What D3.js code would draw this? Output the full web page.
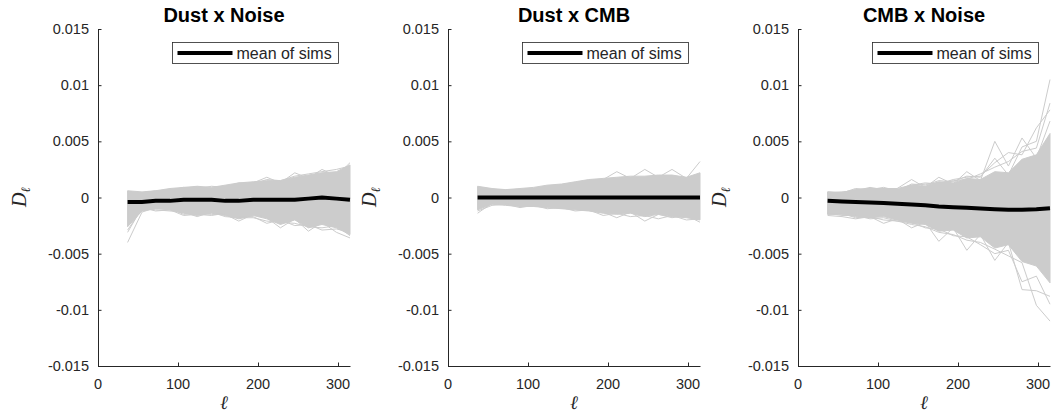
<!DOCTYPE html>
<html>
  <head>
    <meta charset="utf-8">
    <title> sim spectra </title>
    <script src="https://cdn.jsdelivr.net/npm/d3@7/dist/d3.min.js"></script>
    <style>
      body { margin: 0; background: white; }
      text { font-family: "Liberation Sans", Arial, Helvetica, sans-serif; fill: #262626; }
      .ttl { font-weight: bold; font-size: 20px; fill: #000; }
      .tick { font-size: 14.5px; }
      .math { font-family: "Liberation Serif", "DejaVu Serif", serif; font-style: italic; }
    </style>
  </head>
  <body>
    <script>
      // bandpower centres
      var ell = [37, 55, 72, 90, 107, 124, 142, 159, 176, 194, 211, 228, 246, 263, 280, 298, 315];

      var titles = ['Dust x Noise', 'Dust x CMB', 'CMB x Noise'];
      var yTicks = [-0.015, -0.01, -0.005, 0, 0.005, 0.01, 0.015];
      var yTickLabels = ['-0.015', '-0.01', '-0.005', '0', '0.005', '0.01', '0.015'];
      var xTicks = [0, 100, 200, 300];

      // Dust x Noise
      var dnUpper = [0.0006, 0.0005, 0.0006, 0.0008, 0.0009, 0.001, 0.0009, 0.0011, 0.0013, 0.0014, 0.0015, 0.0015, 0.0018, 0.002, 0.0022, 0.0023, 0.0029];
      var dnLower = [-0.0026, -0.0012, -0.001, -0.0011, -0.0014, -0.0016, -0.0014, -0.0016, -0.0019, -0.0016, -0.0019, -0.0024, -0.002, -0.0027, -0.0024, -0.0027, -0.0033];
      var dnMean = [-0.0004, -0.0004, -0.0003, -0.0003, -0.0002, -0.0002, -0.0002, -0.0003, -0.0003, -0.0002, -0.0002, -0.0002, -0.0002, -0.0001, 0, -0.0001, -0.0002];
      var dnSims = [
        [0.0005, 0.0004, 0.0005, 0.0007, 0.0008, 0.0009, 0.0008, 0.001, 0.0012, 0.0013, 0.0018, 0.0013, 0.0022, 0.0017, 0.0025, 0.0019, 0.0031],
        [0.0004, 0.0004, 0.0006, 0.0006, 0.0009, 0.0008, 0.001, 0.0009, 0.0013, 0.0012, 0.0016, 0.0015, 0.0019, 0.0021, 0.0023, 0.0025, 0.0028],
        [-0.004, -0.0013, -0.0009, -0.001, -0.0015, -0.0014, -0.0015, -0.0015, -0.0021, -0.0015, -0.0018, -0.0027, -0.0019, -0.003, -0.0022, -0.0031, -0.0036],
        [-0.0029, -0.001, -0.0011, -0.0012, -0.0013, -0.0017, -0.0013, -0.0017, -0.0018, -0.0018, -0.0021, -0.0022, -0.0023, -0.0026, -0.0027, -0.0025, -0.0034],
        [-0.0031, -0.0009, -0.0012, -0.0011, -0.0016, -0.0015, -0.0016, -0.0014, -0.0017, -0.0017, -0.0023, -0.002, -0.0025, -0.0024, -0.0029, -0.0028, -0.0031]
      ];

      // Dust x CMB
      var dcUpper = [0.001, 0.0008, 0.0007, 0.0008, 0.0009, 0.0011, 0.0012, 0.0014, 0.0016, 0.0017, 0.0018, 0.0019, 0.0019, 0.002, 0.002, 0.0018, 0.0022];
      var dcLower = [-0.0011, -0.0006, -0.0007, -0.0008, -0.0008, -0.0009, -0.001, -0.0011, -0.0012, -0.0014, -0.0015, -0.0014, -0.0017, -0.0015, -0.0017, -0.0018, -0.002];
      var dcMean = [0, 0, 0, 0, 0, 0, 0, 0, 0, 0, 0, 0, 0, 0, 0, 0, 0];
      var dcSims = [
        [0.0009, 0.0007, 0.0007, 0.0007, 0.0008, 0.001, 0.0011, 0.0013, 0.0015, 0.0016, 0.0023, 0.0017, 0.0025, 0.0018, 0.0025, 0.0017, 0.0032],
        [-0.0014, -0.0005, -0.0006, -0.0007, -0.0008, -0.0008, -0.0009, -0.001, -0.0011, -0.0013, -0.0018, -0.0013, -0.0021, -0.0015, -0.0018, -0.0016, -0.0022],
        [-0.0012, -0.0007, -0.0006, -0.0009, -0.0007, -0.001, -0.0009, -0.0012, -0.0011, -0.0016, -0.0014, -0.0017, -0.0016, -0.0019, -0.0016, -0.002, -0.0019]
      ];

      // CMB x Noise
      var cnUpper = [0.0005, 0.00045, 0.0007, 0.0008, 0.0008, 0.0007, 0.0011, 0.001, 0.0014, 0.0013, 0.0017, 0.0016, 0.0023, 0.0022, 0.0034, 0.0038, 0.0057];
      var cnLower = [-0.0015, -0.0015, -0.0017, -0.0018, -0.0017, -0.002, -0.0023, -0.0024, -0.003, -0.0029, -0.0036, -0.0035, -0.0045, -0.0042, -0.0057, -0.0061, -0.0076];
      var cnMean = [-0.0003, -0.00036, -0.0004, -0.00045, -0.0005, -0.00056, -0.00062, -0.0007, -0.0008, -0.00086, -0.00092, -0.00098, -0.00104, -0.0011, -0.0011, -0.00104, -0.00095];
      var cnSims = [
        [0.0004, 0.0005, 0.0006, 0.0009, 0.0007, 0.0008, 0.0016, 0.0009, 0.0018, 0.0012, 0.0023, 0.0015, 0.005, 0.0028, 0.0053, 0.0035, 0.0068],
        [0.0005, 0.0004, 0.0008, 0.0007, 0.0009, 0.0006, 0.0012, 0.0011, 0.0015, 0.0014, 0.0019, 0.0018, 0.0035, 0.002, 0.0045, 0.005, 0.0105],
        [0.0003, 0.0004, 0.0006, 0.0008, 0.0008, 0.0007, 0.001, 0.0012, 0.0013, 0.0015, 0.0016, 0.0021, 0.0027, 0.0032, 0.0041, 0.0044, 0.0084],
        [0.0004, 0.0003, 0.0007, 0.0006, 0.0008, 0.0008, 0.0011, 0.0013, 0.0012, 0.0016, 0.0018, 0.0019, 0.0031, 0.004, 0.0038, 0.0062, 0.0078],
        [-0.0016, -0.0017, -0.0019, -0.0017, -0.0023, -0.0019, -0.0027, -0.0022, -0.0039, -0.0027, -0.0047, -0.0033, -0.0056, -0.004, -0.0082, -0.0083, -0.0088],
        [-0.0014, -0.0016, -0.0016, -0.0019, -0.0018, -0.0021, -0.0024, -0.0026, -0.0031, -0.0033, -0.0038, -0.004, -0.0046, -0.0052, -0.0058, -0.0096, -0.011],
        [-0.0015, -0.0014, -0.0018, -0.0017, -0.002, -0.0021, -0.0022, -0.0027, -0.0028, -0.0034, -0.0035, -0.0042, -0.005, -0.0047, -0.0075, -0.007, -0.0095]
      ];

      var panels = [
        {upper: dnUpper, lower: dnLower, mean: dnMean, sims: dnSims},
        {upper: dcUpper, lower: dcLower, mean: dcMean, sims: dcSims},
        {upper: cnUpper, lower: cnLower, mean: cnMean, sims: cnSims}
      ];

      var W = 1054, H = 412;
      var plotTop = 29, plotBottom = 366, pw = 252;
      var grey = '#cccccc', axCol = '#262626';

      var svg = d3.select('body').append('svg').attr('width', W).attr('height', H);

      var y = d3.scaleLinear().domain([-0.015, 0.015]).range([plotBottom, plotTop]);

      panels.forEach(function(p, i){
        var left = 98 + i * 350;
        var x = d3.scaleLinear().domain([0, 315]).range([left, left + pw]);
        var g = svg.append('g');

        var pts = ell.map(function(l, k){ return {l: l, hi: p.upper[k], lo: p.lower[k]}; });

        g.append('path').datum(pts)
          .attr('d', d3.area().x(function(d){return x(d.l);}).y0(function(d){return y(d.lo);}).y1(function(d){return y(d.hi);}))
          .attr('fill', grey).attr('stroke', grey).attr('stroke-width', 1);

        var line = d3.line().x(function(d, k){return x(ell[k]);}).y(function(d){return y(d);});
        g.selectAll('.sim').data(p.sims).enter().append('path')
          .attr('d', line).attr('fill', 'none').attr('stroke', grey).attr('stroke-width', 1);

        g.append('path').datum(p.mean).attr('d', line)
          .attr('fill', 'none').attr('stroke', '#000').attr('stroke-width', 4);

        // axes (box off, ticks inward)
        var yAx = g.append('g').attr('transform', 'translate(' + left + ',0)')
          .call(d3.axisRight(y).tickValues(yTicks).tickSize(3.5).tickSizeOuter(0).tickFormat(''));
        var xAx = g.append('g').attr('transform', 'translate(0,' + plotBottom + ')')
          .call(d3.axisTop(x).tickValues(xTicks).tickSize(3.5).tickSizeOuter(0).tickFormat(''));
        [yAx, xAx].forEach(function(a){
          a.select('.domain').attr('stroke', axCol);
          a.selectAll('.tick line').attr('stroke', axCol);
        });

        g.selectAll('.ylab').data(yTicks).enter().append('text').attr('class', 'tick')
          .attr('x', left - 9).attr('y', function(d){return y(d) + 5;})
          .attr('text-anchor', 'end').text(function(d, k){return yTickLabels[k];});
        g.selectAll('.xlab').data(xTicks).enter().append('text').attr('class', 'tick')
          .attr('x', function(d){return x(d);}).attr('y', plotBottom + 23)
          .attr('text-anchor', 'middle').text(function(d){return d;});

        g.append('text').attr('class', 'ttl').attr('x', left + pw / 2).attr('y', 22)
          .attr('text-anchor', 'middle').text(titles[i]);

        g.append('text').attr('class', 'math').attr('x', left + pw / 2).attr('y', 409)
          .attr('text-anchor', 'middle').style('font-size', '19px').text('ℓ');

        var yl = g.append('text').attr('class', 'math').style('font-size', '20px')
          .attr('transform', 'translate(' + (left - 72) + ',' + 197 + ') rotate(-90)')
          .attr('text-anchor', 'middle');
        yl.append('tspan').text('D');
        yl.append('tspan').attr('dy', 4).style('font-size', '13px').text('ℓ');

        // legend
        var lg = g.append('g').attr('transform', 'translate(' + (left + 74.5) + ',42.5)');
        lg.append('rect').attr('width', 166).attr('height', 21).attr('fill', 'white').attr('stroke', axCol).attr('stroke-width', 0.8);
        lg.append('line').attr('x1', 5).attr('x2', 60).attr('y1', 10.5).attr('y2', 10.5).attr('stroke', '#000').attr('stroke-width', 4);
        lg.append('text').attr('x', 64).attr('y', 16).style('font-size', '16px').text('mean of sims');
      });
    </script>
  </body>
</html>
